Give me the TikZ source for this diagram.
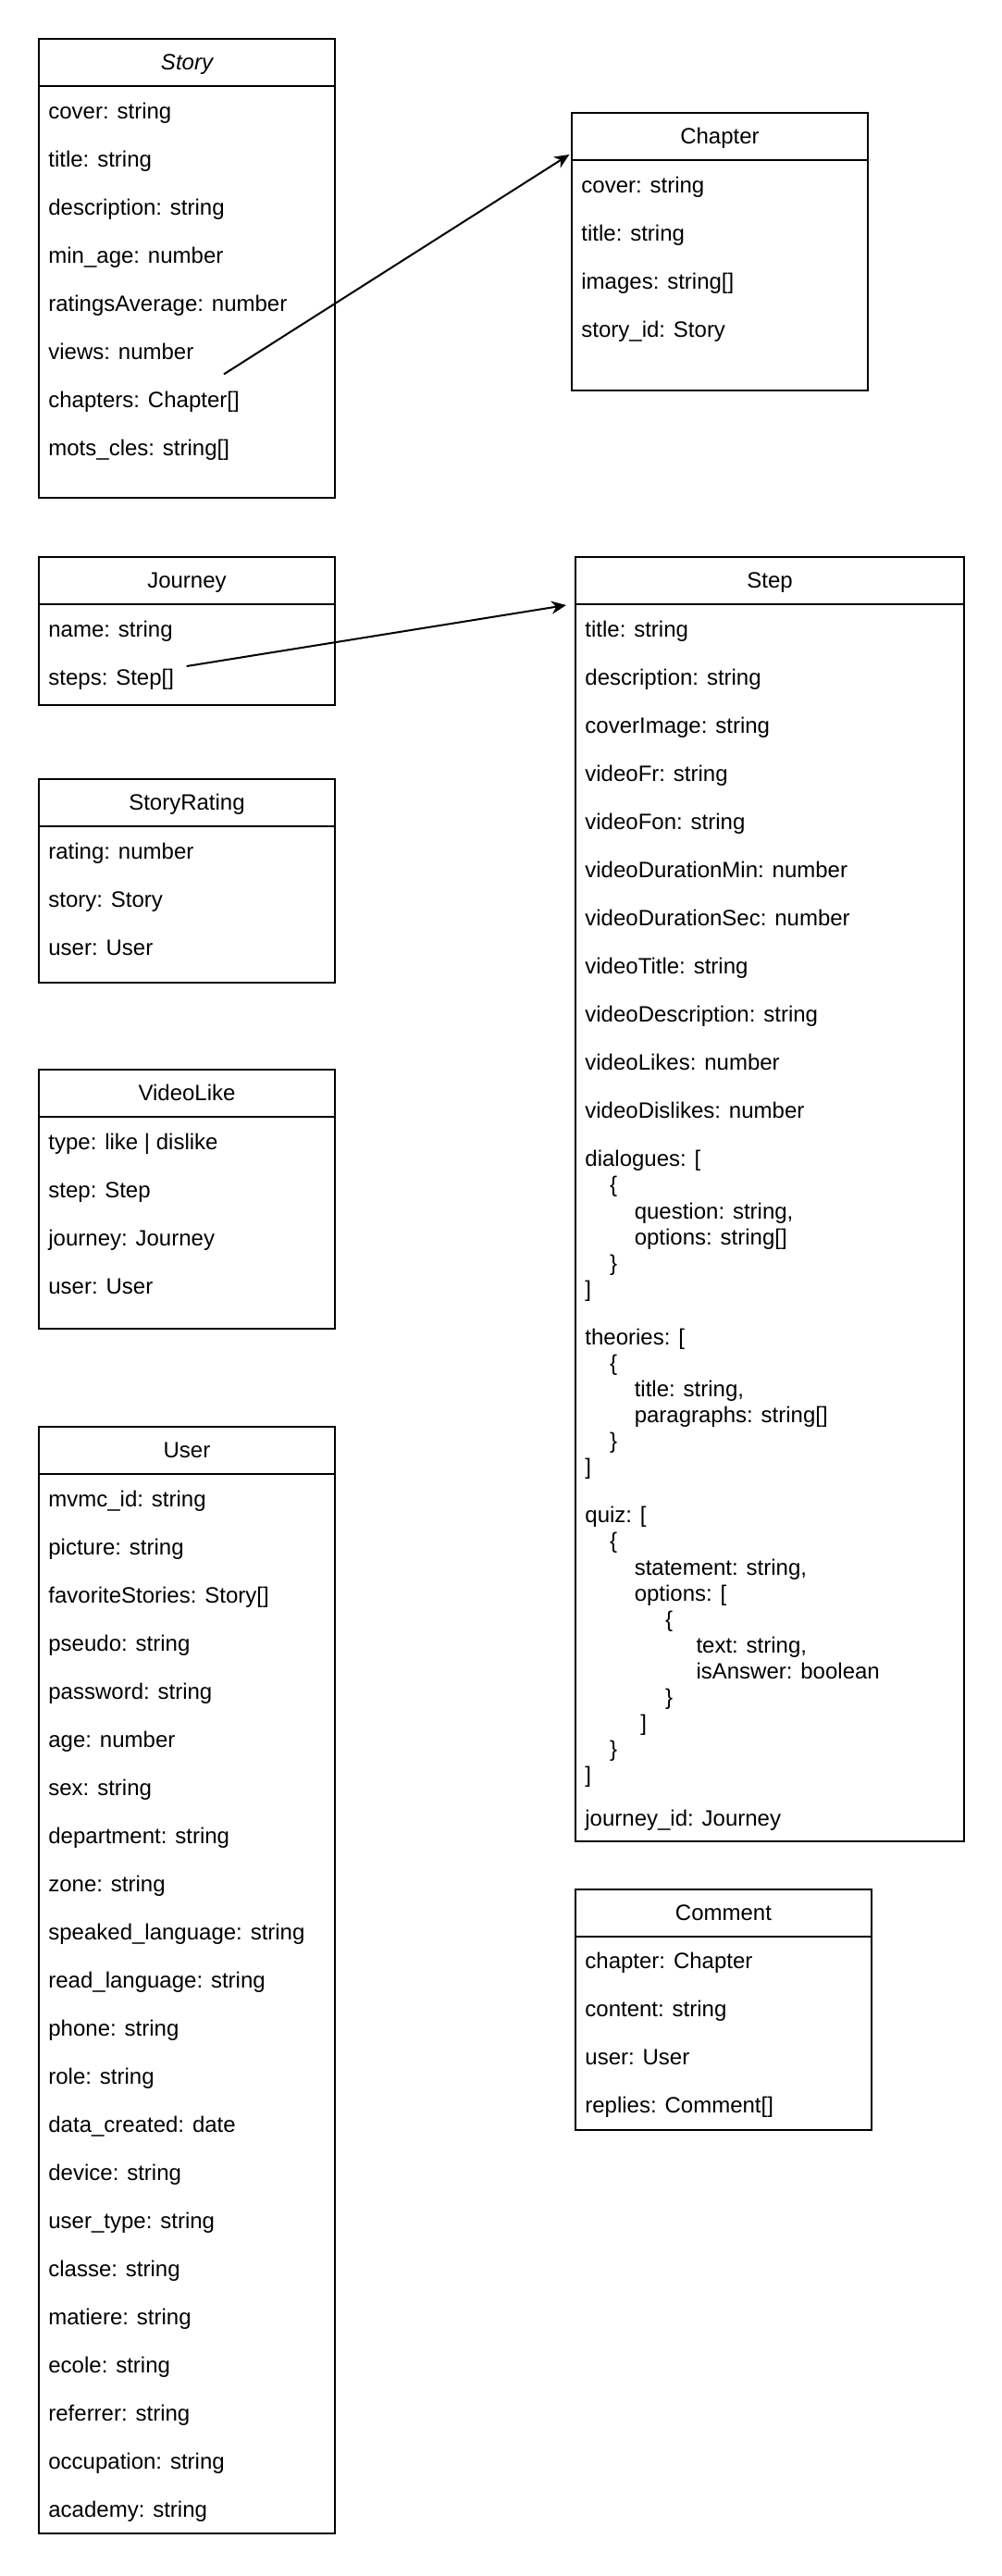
\documentclass[tikz,border=0pt]{standalone}
\usepackage{fontspec}
\setmainfont{Liberation Sans}
\usetikzlibrary{arrows.meta}

\tikzset{
  classbox/.style={draw, line width=1pt, anchor=north west, inner sep=0pt},
  classname/.style={anchor=base, inner sep=0pt},
  attr/.style={anchor=base west, inner sep=0pt},
  assoc/.style={line width=1pt, -{Stealth[length=8pt,width=7pt,inset=2.5pt]}},
}

% box with a title strip: name, x, y, width, height, title
\newcommand{\umlclass}[6]{%
  \node[classbox, minimum width=#4pt, minimum height=#5pt] (#1) at (#2,#3) {};
  \draw[line width=1pt] ([yshift=-26pt]#1.north west) -- ([yshift=-26pt]#1.north east);
  \node[classname] (#1-title) at ([yshift=-17.4pt]#1.north) {#6};
}
% one attribute per row
\newcommand{\classattrs}[2]{%
  \foreach \txt [count=\i from 0] in {#2}
    \node[attr] (#1-\i) at ([xshift=5.5pt, yshift={-(43.6+26*\i)*1pt}]#1.north west) {\txt};
}
% multi-line attribute of step: name, baseline, indent/text list
\newcommand{\stepblock}[3]{%
  \foreach \ind/\txt [count=\i from 0] in {#3}
    \node[attr] (#1-\i) at ([xshift={(5.5+3.336*\ind)*1pt}, yshift={-(#2+14.05*\i)*1pt}]step.north west) {\txt};
}

\begin{document}
\begin{tikzpicture}[x=1pt, y=-1pt, font=\fontsize{12}{14}\selectfont]
  \fill[white] (0,0) rectangle (541,1392);
  \useasboundingbox (0,0) rectangle (541,1392);

  % left column
  \umlclass{story}{20.5}{20.5}{160}{248}{\itshape Story}
  \classattrs{story}{cover: string, title: string, description: string, min\_age: number,
    ratingsAverage: number, views: number, chapters: Chapter[], mots\_cles: string[]}

  \umlclass{journey}{20.5}{300.5}{160}{80}{Journey}
  \classattrs{journey}{name: string, steps: Step[]}

  \umlclass{rating}{20.5}{420.5}{160}{110}{StoryRating}
  \classattrs{rating}{rating: number, story: Story, user: User}

  \umlclass{like}{20.5}{577.4}{160}{140}{VideoLike}
  \classattrs{like}{type: like | dislike, step: Step, journey: Journey, user: User}

  \umlclass{user}{20.5}{770.5}{160}{598}{User}
  \classattrs{user}{mvmc\_id: string, picture: string, favoriteStories: Story[], pseudo: string,
    password: string, age: number, sex: string, department: string, zone: string,
    speaked\_language: string, read\_language: string, phone: string, role: string,
    data\_created: date, device: string, user\_type: string, classe: string, matiere: string,
    ecole: string, referrer: string, occupation: string, academy: string}

  % right column
  \umlclass{chapter}{308.5}{60.5}{160}{150}{Chapter}
  \classattrs{chapter}{cover: string, title: string, images: string[], story\_id: Story}

  \umlclass{step}{310.5}{300.5}{210}{694}{Step}
  \classattrs{step}{title: string, description: string, coverImage: string, videoFr: string,
    videoFon: string, videoDurationMin: number, videoDurationSec: number, videoTitle: string,
    videoDescription: string, videoLikes: number, videoDislikes: number}
  \stepblock{dialogues}{329.9}{0/{dialogues: [}, 4/\{, 8/{question: string,},
    8/{options: string[]}, 4/\}, 0/{]}}
  \stepblock{theories}{426.1}{0/{theories: [}, 4/\{, 8/{title: string,},
    8/{paragraphs: string[]}, 4/\}, 0/{]}}
  \stepblock{quiz}{522.4}{0/{quiz: [}, 4/\{, 8/{statement: string,}, 8/{options: [},
    13/\{, 18/{text: string,}, 18/{isAnswer: boolean}, 13/\}, 9/{]}, 4/\}, 0/{]}}
  \node[attr] (step-journey) at ([xshift=5.5pt, yshift=-686.3pt]step.north west) {journey\_id: Journey};

  \umlclass{comment}{310.5}{1020.3}{160}{130}{Comment}
  \classattrs{comment}{chapter: Chapter, content: string, user: User, replies: Comment[]}

  % links
  \coordinate (chaptersTail) at (121,202.2);
  \coordinate (stepsTail) at (100.8,360);
  \draw[assoc] (chaptersTail) -- ([shift={(-0.8,23)}]chapter.north west);
  \draw[assoc] (stepsTail) -- ([shift={(-4.5,26.5)}]step.north west);
\end{tikzpicture}
\end{document}
